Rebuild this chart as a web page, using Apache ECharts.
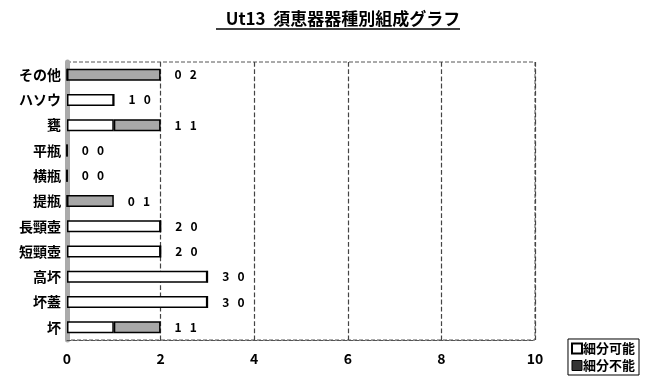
<!DOCTYPE html>
<html>
<head>
    <meta http-equiv="Content-type" content="text/html; charset=utf-8" />
    <title></title>
    <script src="https://cdn.jsdelivr.net/npm/echarts@6/dist/echarts.min.js"></script>
    <style>
    body { margin: 0; background: #fff; }
    #main { width: 649px; height: 381px; }
    </style>
</head>
<body>
    <div id="main"></div>
    <script type="text/javascript">
        // 器種（下から上）
        var categories = ['坏', '坏蓋', '高坏', '短頸壺', '長頸壺', '提瓶', '横瓶', '平瓶', '甕', 'ハソウ', 'その他'];
        var kanou = [1, 3, 3, 2, 2, 0, 0, 0, 1, 1, 0];   // 細分可能
        var funou = [1, 0, 0, 0, 0, 1, 0, 0, 1, 0, 2];   // 細分不能
        var xTicks = [0, 2, 4, 6, 8, 10];
        var seriesNames = ['細分可能', '細分不能'];

        var font = '"Noto Sans CJK JP", "DejaVu Sans", sans-serif';
        var myChart = echarts.init(document.getElementById('main'));

        myChart.setOption({
            animation: false,
            title: {
                text: 'Ut13  須恵器器種別組成グラフ',
                left: 338,
                textAlign: 'center',
                top: 5,
                textStyle: { fontFamily: font, fontSize: 17, fontWeight: 'bold', color: '#000' }
            },
            graphic: [{
                type: 'line',
                shape: { x1: 216, y1: 29, x2: 460, y2: 29 },
                style: { stroke: '#000', lineWidth: 1.5 }
            }],
            legend: {
                orient: 'vertical',
                right: 10,
                bottom: 6,
                itemWidth: 10,
                itemHeight: 10,
                itemGap: 4,
                padding: [3, 4, 3, 3],
                borderColor: '#000',
                borderWidth: 1,
                textStyle: { fontFamily: font, fontSize: 13, fontWeight: 'bold', color: '#000', padding: [0, 0, 0, -4] },
                data: [
                    { name: seriesNames[0], icon: 'rect', itemStyle: { color: '#fff', borderColor: '#000', borderWidth: 2 } },
                    { name: seriesNames[1], icon: 'rect', itemStyle: { color: '#333', borderColor: '#000', borderWidth: 1 } }
                ]
            },
            grid: {
                left: 67, right: 114, top: 62, bottom: 41,
                show: true, borderColor: '#555', borderWidth: 1, borderType: 'dashed'
            },
            xAxis: {
                type: 'value',
                min: 0,
                max: 10,
                interval: 2,
                axisLine: { show: true, lineStyle: { color: '#555', type: 'dashed', width: 1 } },
                axisTick: { show: false },
                axisLabel: {
                    fontFamily: font, fontSize: 14, fontWeight: 'bold', color: '#000', margin: 12,
                    formatter: function (v) { return xTicks.indexOf(v) >= 0 ? String(v) : ''; }
                },
                splitLine: { show: true, lineStyle: { color: '#444', type: 'dashed', width: 1.2 } }
            },
            yAxis: {
                type: 'category',
                data: categories,
                axisLine: { show: true, lineStyle: { color: '#aaa', width: 5 } },
                axisTick: { show: false },
                axisLabel: { fontFamily: font, fontSize: 14, fontWeight: 'bold', color: '#000', margin: 6 }
            },
            series: [
                {
                    name: seriesNames[0],
                    type: 'bar',
                    stack: 'total',
                    barWidth: 12,
                    data: kanou,
                    itemStyle: { color: '#fff', borderColor: '#000', borderWidth: 1.5 }
                },
                {
                    name: seriesNames[1],
                    type: 'bar',
                    stack: 'total',
                    barWidth: 12,
                    data: funou,
                    itemStyle: { color: '#a8a8a8', borderColor: '#000', borderWidth: 1.5 },
                    label: {
                        show: true,
                        position: 'right',
                        distance: 14,
                        fontFamily: font,
                        fontSize: 12,
                        fontWeight: 'bold',
                        color: '#000',
                        formatter: function (p) {
                            return kanou[p.dataIndex] + '   ' + funou[p.dataIndex];
                        }
                    }
                }
            ]
        });
    </script>
</body>
</html>
